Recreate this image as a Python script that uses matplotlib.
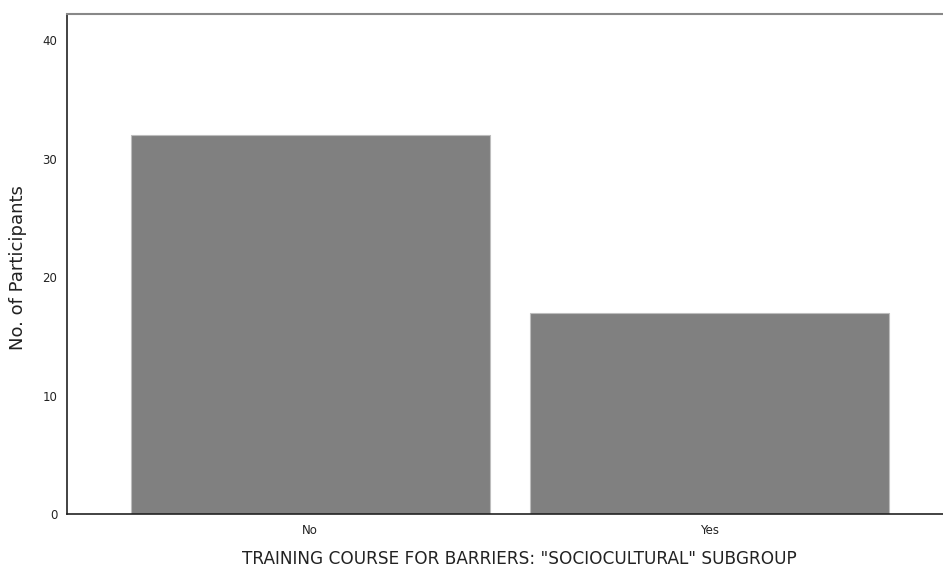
import matplotlib
matplotlib.use("Agg")
import matplotlib.pyplot as plt

categories = ["No", "Yes"]
counts = [32, 17]
yticks = [0, 10, 20, 30, 40]

plt.rcParams["font.family"] = ["DejaVu Sans"]

fig = plt.figure(figsize=(9.43, 5.69), dpi=100)
ax = fig.add_axes([67 / 943, 1 - 514 / 569, 1 - 67 / 943 + 0.01, (514 - 14) / 569])

x = list(range(len(categories)))
ax.bar(x, counts, width=0.9, color="#808080", edgecolor="#bdbdbd", linewidth=0.8, zorder=2)

ax.set_xlim(-0.61, 1.61)
ax.set_ylim(0, 42.2)
ax.set_yticks(yticks)
ax.set_yticklabels([str(t) for t in yticks], fontsize=8.5, color="#222222")
ax.set_xticks(x)
ax.set_xticklabels(categories, fontsize=8.5, color="#222222")
ax.tick_params(axis="both", length=0, pad=7)

for side in ("left", "bottom"):
    ax.spines[side].set_color("#222222")
    ax.spines[side].set_linewidth(1.2)
ax.spines["top"].set_color("#888888")
ax.spines["top"].set_linewidth(1.5)
ax.spines["right"].set_visible(False)

fig.text(18 / 943, 1 - 267.5 / 569, "No. of Participants", rotation=90,
         fontsize=13, color="#222222", ha="center", va="center")
fig.text(519 / 943, 1 - 559 / 569, 'TRAINING COURSE FOR BARRIERS: "SOCIOCULTURAL" SUBGROUP',
         fontsize=12.2, color="#222222", ha="center", va="center")

fig.savefig("out.png", dpi=100)
